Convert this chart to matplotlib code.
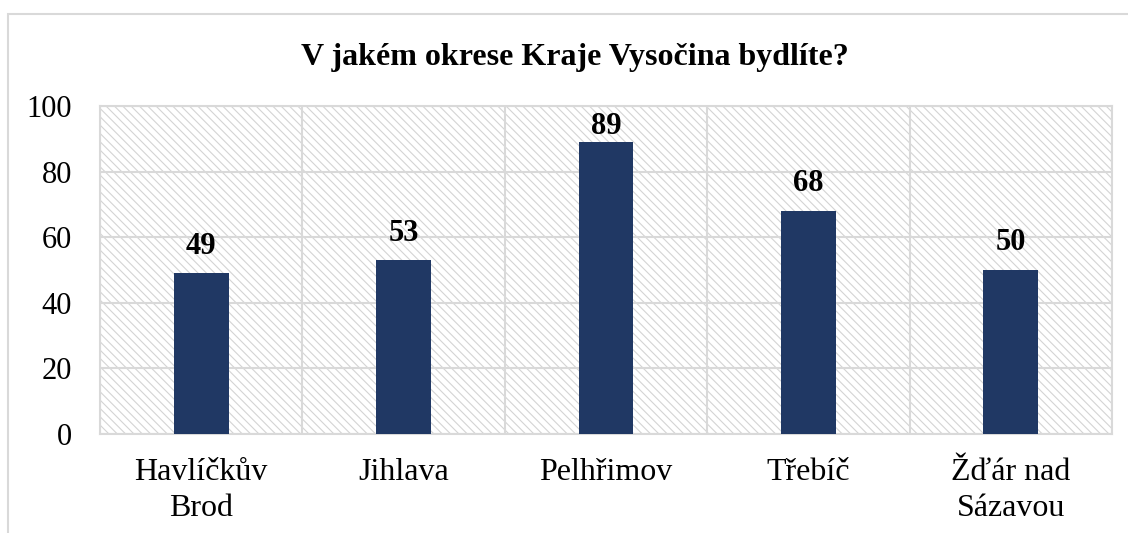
import matplotlib
matplotlib.use("Agg")
import matplotlib.pyplot as plt
from matplotlib.patches import Rectangle
import numpy as np

categories = ["Havlíčkův\nBrod", "Jihlava", "Pelhřimov", "Třebíč", "Žďár nad\nSázavou"]
values = [49, 53, 89, 68, 50]
yticks = [0, 20, 40, 60, 80, 100]
title = "V jakém okrese Kraje Vysočina bydlíte?"

grid_c = "#d9d9d9"
bar_c = "#203864"
plt.rcParams["font.family"] = ["Liberation Serif", "DejaVu Serif"]
plt.rcParams["hatch.linewidth"] = 0.8

fig = plt.figure(figsize=(11.28, 5.33), dpi=100)
# outer chart border
fig.patches.append(Rectangle((8/1128, -0.2), 1.2, 1 - 14/533 + 0.2, transform=fig.transFigure,
                             facecolor="none", edgecolor=grid_c, linewidth=1.5))

ax = fig.add_axes([100/1128, 1 - 434/533, 1012/1128, 328/533])
ax.add_patch(Rectangle((0, 0), 1, 1, transform=ax.transAxes, facecolor="white",
                       edgecolor="#d4d4d4", linewidth=0, hatch="\\\\\\\\", zorder=0))

ax.set_xlim(-0.5, len(categories) - 0.5)
ax.set_ylim(0, 100)
ymax = ax.get_ylim()[1]

x = np.arange(len(categories))
ax.bar(x, values, width=0.27, color=bar_c, zorder=3)
for xi, v in zip(x, values):
    if v > 0.85 * ymax:
        # label would leave the plot area: keep it inside, just below the top
        ax.annotate(str(v), (xi, ymax), xytext=(0, -4), textcoords="offset points",
                    ha="center", va="top", fontsize=22, fontweight="bold", zorder=4)
    else:
        ax.annotate(str(v), (xi, v), xytext=(0, 9), textcoords="offset points",
                    ha="center", va="bottom", fontsize=22, fontweight="bold", zorder=4)

ax.set_yticks(yticks)
ax.set_yticklabels([str(t) for t in yticks], fontsize=22)
ax.set_xticks(x)
ax.set_xticklabels(categories, fontsize=23, linespacing=1.35)
ax.set_xticks(np.arange(len(categories) + 1) - 0.5, minor=True)
ax.tick_params(axis="both", which="both", length=0)
ax.tick_params(axis="y", pad=20)
ax.tick_params(axis="x", pad=17)
ax.grid(axis="y", which="major", color=grid_c, linewidth=1.5, zorder=1)
ax.grid(axis="x", which="minor", color=grid_c, linewidth=1.5, zorder=1)
ax.set_axisbelow(True)
for s in ax.spines.values():
    s.set_color(grid_c)
    s.set_linewidth(1.5)

fig.text(575/1128, 1 - 58/533, title, ha="center", va="center", fontsize=23, fontweight="bold")

fig.savefig("out.png", dpi=100)
